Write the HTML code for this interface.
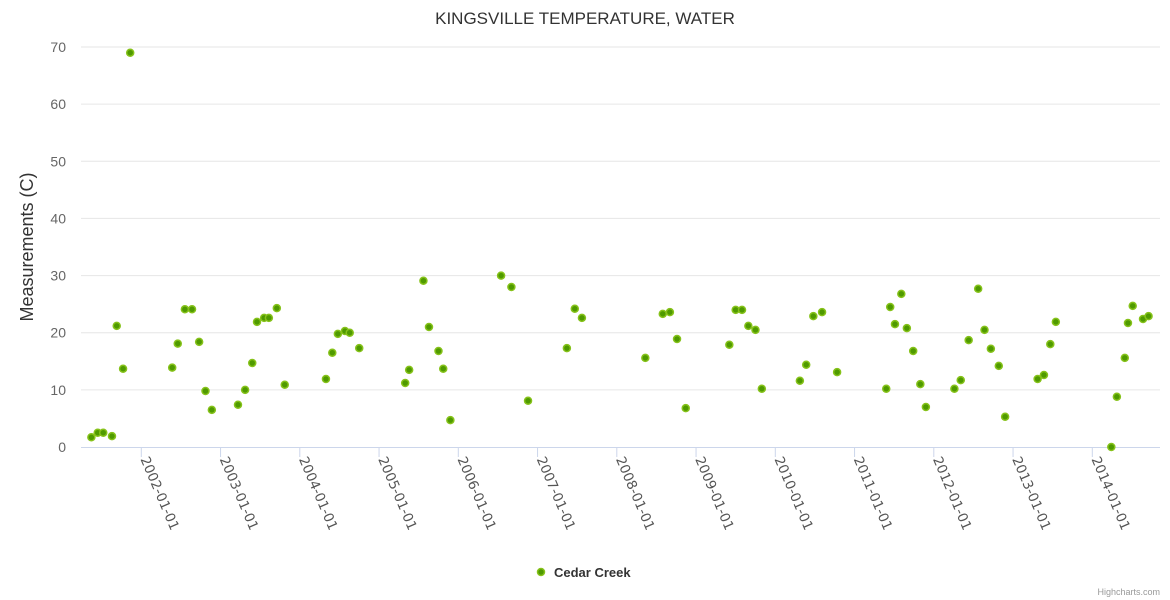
<!DOCTYPE html>
<html><head><meta charset="utf-8"><style>
body{margin:0;background:#fff;}
svg{display:block;font-family:"Liberation Sans",sans-serif;}
</style></head><body>
<svg id="chart" width="1170" height="600">
<text x="585" y="24" text-anchor="middle" font-size="17" fill="#333">KINGSVILLE TEMPERATURE, WATER</text>
<text transform="translate(33,247) rotate(-90)" text-anchor="middle" font-size="18" fill="#333">Measurements (C)</text>
<g id="grid"></g><g id="xaxis"></g><g id="points"></g>
<g>
<circle cx="541" cy="572" r="3.5" fill="#4f9a00" stroke="#86c21a" stroke-width="1.5"/>
<text x="554" y="577" font-size="13" font-weight="bold" fill="#333">Cedar Creek</text>
</g>
<text x="1160" y="595" text-anchor="end" font-size="9" fill="#999">Highcharts.com</text>
</svg>
<script>
const yTicks=[0,10,20,30,40,50,60,70];
const xTickYears=[2002,2003,2004,2005,2006,2007,2008,2009,2010,2011,2012,2013,2014];
const xDates=[2001.37,2001.45,2001.52,2001.63,2001.69,2001.77,2001.86,2002.39,2002.46,2002.55,2002.64,2002.73,2002.81,2002.89,2003.22,2003.31,2003.40,2003.46,2003.55,2003.61,2003.71,2003.81,2004.33,2004.41,2004.48,2004.57,2004.63,2004.75,2005.33,2005.38,2005.56,2005.63,2005.75,2005.81,2005.90,2006.54,2006.67,2006.88,2007.37,2007.47,2007.56,2008.36,2008.58,2008.67,2008.76,2008.87,2009.42,2009.50,2009.58,2009.66,2009.75,2009.83,2010.31,2010.39,2010.48,2010.59,2010.78,2011.40,2011.45,2011.51,2011.59,2011.66,2011.74,2011.83,2011.90,2012.26,2012.34,2012.44,2012.56,2012.64,2012.72,2012.82,2012.90,2013.31,2013.39,2013.47,2013.54,2014.24,2014.31,2014.41,2014.45,2014.51,2014.64,2014.71];
const tempValues=[1.7,2.5,2.5,1.9,21.2,13.7,69,13.9,18.1,24.1,24.1,18.4,9.8,6.5,7.4,10,14.7,21.9,22.6,22.6,24.3,10.9,11.9,16.5,19.8,20.3,20.0,17.3,11.2,13.5,29.1,21.0,16.8,13.7,4.7,30,28,8.1,17.3,24.2,22.6,15.6,23.3,23.6,18.9,6.8,17.9,24,24,21.2,20.5,10.2,11.6,14.4,22.9,23.6,13.1,10.2,24.5,21.5,26.8,20.8,16.8,11.0,7.0,10.2,11.7,18.7,27.7,20.5,17.2,14.2,5.3,11.9,12.6,18.0,21.9,0,8.8,15.6,21.7,24.7,22.4,22.9];
const NS='http://www.w3.org/2000/svg';
const X0=81,X1=1160,Y0=447,Y1=47;
function xs(t){return 141.3+(t-2002)*79.25;}
function ys(v){return Y0-(v/70)*(Y0-Y1);}
function mk(tag,attrs,parent){const e=document.createElementNS(NS,tag);for(const k in attrs)e.setAttribute(k,attrs[k]);parent.appendChild(e);return e;}
const grid=document.getElementById('grid');
yTicks.forEach(v=>{
  const y=ys(v);
  if(v>0){const l=mk('line',{x1:X0,x2:X1,y1:y,y2:y,stroke:'#e6e6e6'},grid);
  
  }
  const t=mk('text',{x:66,y:y+5,'text-anchor':'end','font-size':14,fill:'#666'},grid);
  t.textContent=v;
  
  
});
const xa=document.getElementById('xaxis');
const al=mk('line',{x1:X0,x2:X1,y1:Y0+0.5,y2:Y0+0.5,stroke:'#ccd6eb'},xa);


xTickYears.forEach(yr=>{
  const x=xs(yr);
  const tk=mk('line',{x1:x,x2:x,y1:Y0,y2:Y0+10,stroke:'#ccd6eb'},xa);
  
  
  const t=mk('text',{transform:`translate(${x-1},${Y0+12}) rotate(67)`,'font-size':13.5,'font-family':'"DejaVu Sans",sans-serif',fill:'#555'},xa);
  t.textContent=yr+'-01-01';
  
  
});
const pts=document.getElementById('points');
xDates.forEach((d,i)=>{
  const c=mk('circle',{cx:xs(d),cy:ys(tempValues[i]),r:3.5,fill:'#4f9a00',stroke:'#86c21a','stroke-width':1.5},pts);
  
  
});
</script>
</body></html>
